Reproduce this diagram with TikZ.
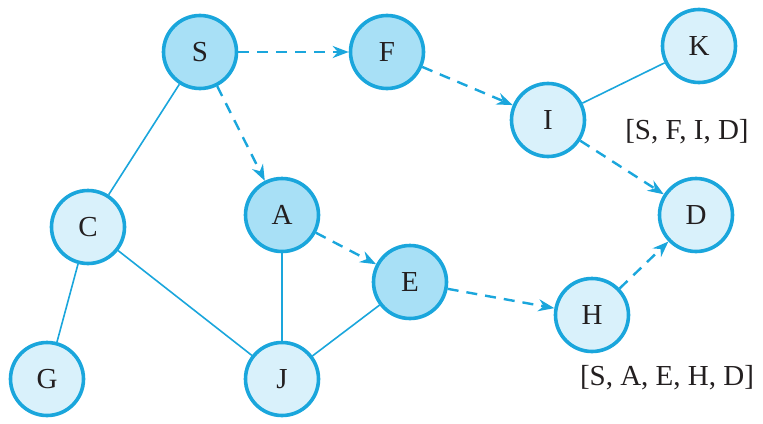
\documentclass[tikz,border=0pt]{standalone}
\usepackage{fontspec}
\setmainfont{Liberation Serif}
\usetikzlibrary{arrows.meta}
\definecolor{edgeblue}{HTML}{1AA6DC}
\definecolor{darkfill}{HTML}{A8E0F6}
\definecolor{lightfill}{HTML}{D9F1FB}
\definecolor{txt}{HTML}{231F20}
\tikzset{
  vtx/.style={circle, draw=edgeblue, line width=3.6pt, minimum size=73pt, inner sep=0pt,
    font=\fontsize{29}{31}\selectfont, text=txt},
  vdark/.style={vtx, fill=darkfill},
  vlight/.style={vtx, fill=lightfill},
  plain/.style={draw=edgeblue, line width=1.6pt},
  pathedge/.style={draw=edgeblue, line width=2.4pt, dash pattern=on 11pt off 8pt,
    -{Stealth[length=16pt, width=12pt]}},
  lbl/.style={font=\fontsize{29}{31}\selectfont, text=txt, inner sep=0pt}
}
\begin{document}
\begin{tikzpicture}[x=1pt, y=-1pt]
\useasboundingbox (0,0) rectangle (763,423);
\node[vdark]  (S) at (200,52)  {S};
\node[vdark]  (F) at (387,52)  {F};
\node[vlight] (K) at (699,46)  {K};
\node[vlight] (I) at (548,120) {I};
\node[vlight] (D) at (696,215) {D};
\node[vlight] (C) at (88,227)  {C};
\node[vdark]  (A) at (282,215) {A};
\node[vdark]  (E) at (410,282) {E};
\node[vlight] (H) at (592,315) {H};
\node[vlight] (G) at (47,379)  {G};
\node[vlight] (J) at (282,379) {J};
\node[lbl] (L1) at (687,132) {[S, F, I, D]};
\node[lbl] (L2) at (667,378) {[S, A, E, H, D]};
\draw[plain] (S) -- (C);
\draw[plain] (C) -- (G);
\draw[plain] (C) -- (J);
\draw[plain] (A) -- (J);
\draw[plain] (J) -- (E);
\draw[plain] (I) -- (K);
\draw[pathedge] (S) -- (F);
\draw[pathedge] (F) -- (I);
\draw[pathedge] (I) -- (D);
\draw[pathedge] (S) -- (A);
\draw[pathedge] (A) -- (E);
\draw[pathedge] (E) -- (H);
\draw[pathedge] (H) -- (D);
\end{tikzpicture}
\end{document}
